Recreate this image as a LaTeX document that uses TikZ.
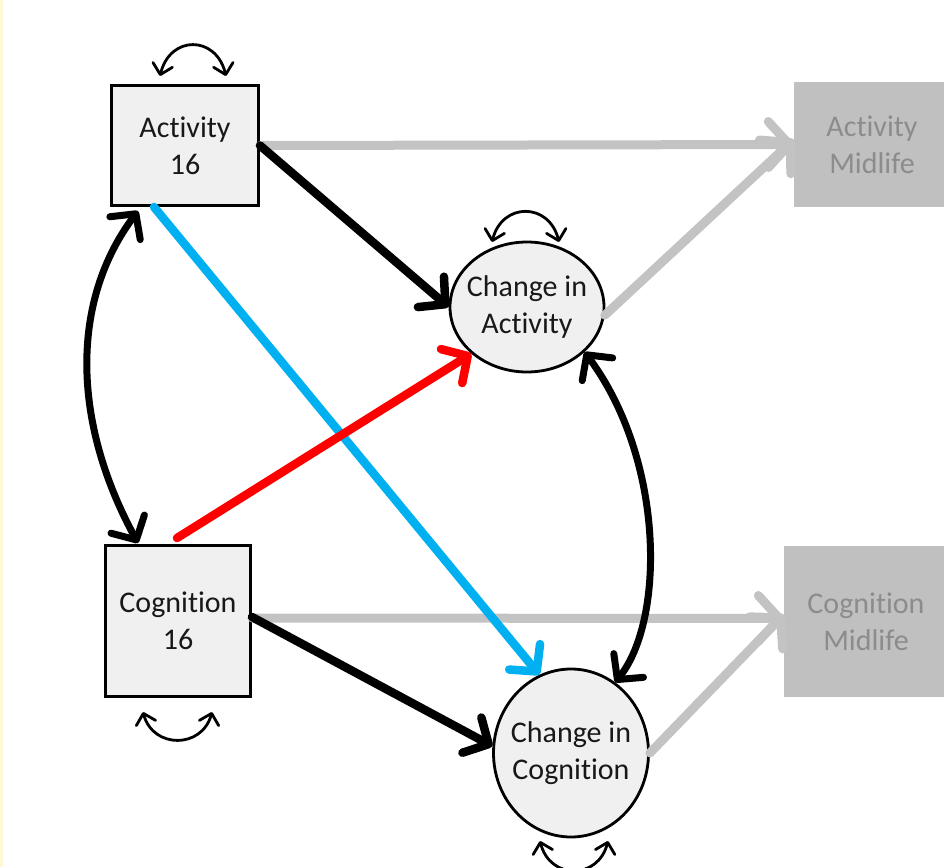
\documentclass[tikz,border=0pt]{standalone}
\usepackage{fontspec}
\setmainfont{Carlito}[Ligatures=NoCommon]
\usetikzlibrary{arrows.meta,shapes.geometric,calc}
\definecolor{boxfill}{HTML}{F0F0F0}
\definecolor{midfill}{HTML}{C0C0C0}
\definecolor{midtext}{HTML}{8C8C8C}
\definecolor{grayarrow}{HTML}{C3C3C3}
\definecolor{edgeyellow}{HTML}{FFF8D8}
\definecolor{txt}{HTML}{181818}
\definecolor{cyanarrow}{HTML}{00B0F0}
\definecolor{redarrow}{HTML}{FF0000}
\tikzset{
  lbl/.style={font=\fontsize{30}{37}\selectfont, align=center, text=txt},
  sqbox/.style={lbl, rectangle, draw=black, line width=3pt, fill=boxfill, inner sep=0pt},
  circ/.style={lbl, ellipse, draw=black, line width=2.8pt, fill=boxfill, inner xsep=-30pt, inner ysep=-15pt},
  midbox/.style={lbl, rectangle, fill=midfill, text=midtext, inner sep=0pt},
  bigarrow/.style={line width=8.5pt, line cap=round, line join=round,
    -{Straight Barb[length=19pt,width=40pt,line cap=round,line join=round]}},
  grayarr/.style={line width=9pt, color=grayarrow, line cap=round, line join=round,
    -{Straight Barb[length=21pt,width=46pt,line cap=round,line join=round]}},
  dblarrow/.style={line width=7pt, line cap=round, line join=round,
    {Straight Barb[length=18pt,width=38pt,line cap=round,line join=round]}-{Straight Barb[length=18pt,width=38pt,line cap=round,line join=round]}},
  loop/.style={line width=2.8pt, line cap=round, line join=round,
    {Straight Barb[length=10pt,width=20pt,line cap=round,line join=round]}-{Straight Barb[length=10pt,width=20pt,line cap=round,line join=round]}}
}
\begin{document}
\begin{tikzpicture}[x=1pt,y=-1pt]
\useasboundingbox (0,0) rectangle (944,867);
\fill[edgeyellow] (0,0) rectangle (2.5,867);

% nodes
\node[sqbox, minimum width=147pt, minimum height=120pt] (A16) at (185,145.5) {Activity\\16};
\node[sqbox, minimum width=145pt, minimum height=151pt] (C16) at (178,621) {Cognition\\16};
\node[circ, minimum width=154pt, minimum height=130pt] (CA) at (527,307) {Change in\\Activity};
\node[circ, minimum width=155pt, minimum height=168pt] (CC) at (571,753) {Change in\\Cognition};
\node[midbox, minimum width=156pt, minimum height=125pt] (AM) at (872,144.5) {Activity\\Midlife};
\node[midbox, minimum width=164pt, minimum height=151pt] (CM) at (866,621.5) {Cognition\\Midlife};

% gray arrows
\draw[grayarr] (A16.east) -- (AM.west);
\draw[grayarr] (CA.-6) -- ([yshift=5pt]AM.west);
\draw[grayarr] ([yshift=3pt]C16.east) -- ([yshift=3pt]CM.west);
\draw[grayarr] (CC.east) -- ([yshift=7pt]CM.west);

% black arrows
\draw[bigarrow] (A16.east) -- (CA.west);
\draw[bigarrow] ([yshift=4pt]C16.east) -- (CC.175);

% blue and red arrows
\coordinate (blueStart) at ($(A16.south)+(-31,0)$);
\draw[bigarrow, color=cyanarrow] (blueStart) -- (CC.112);
\coordinate (redStart) at ($(C16.north)+(-1,-6)$);
\draw[bigarrow, color=redarrow] (redStart) -- (CA.220);

% curved covariances
\coordinate (lTop) at ($(A16.south)+(-47,4)$);
\coordinate (lBot) at ($(C16.north)+(-40,-1)$);
\draw[dblarrow] (lTop) .. controls (71,300) and (71,420) .. (lBot);
\draw[dblarrow] (CA.-38) .. controls (665,460) and (665,620) .. (CC.58);

% self loops
\coordinate (a1) at (160,76); \coordinate (a2) at (226,76);
\draw[loop] (a1) .. controls (170,35) and (216,35) .. (a2);
\coordinate (b1) at (492,242); \coordinate (b2) at (559,242);
\draw[loop] (b1) .. controls (502,202) and (549,202) .. (b2);
\coordinate (c1) at (143,712); \coordinate (c2) at (212,712);
\draw[loop] (c1) .. controls (153,749) and (202,749) .. (c2);
\coordinate (d1) at (540,841); \coordinate (d2) at (608,841);
\draw[loop] (d1) .. controls (550,880) and (598,880) .. (d2);
\end{tikzpicture}
\end{document}
